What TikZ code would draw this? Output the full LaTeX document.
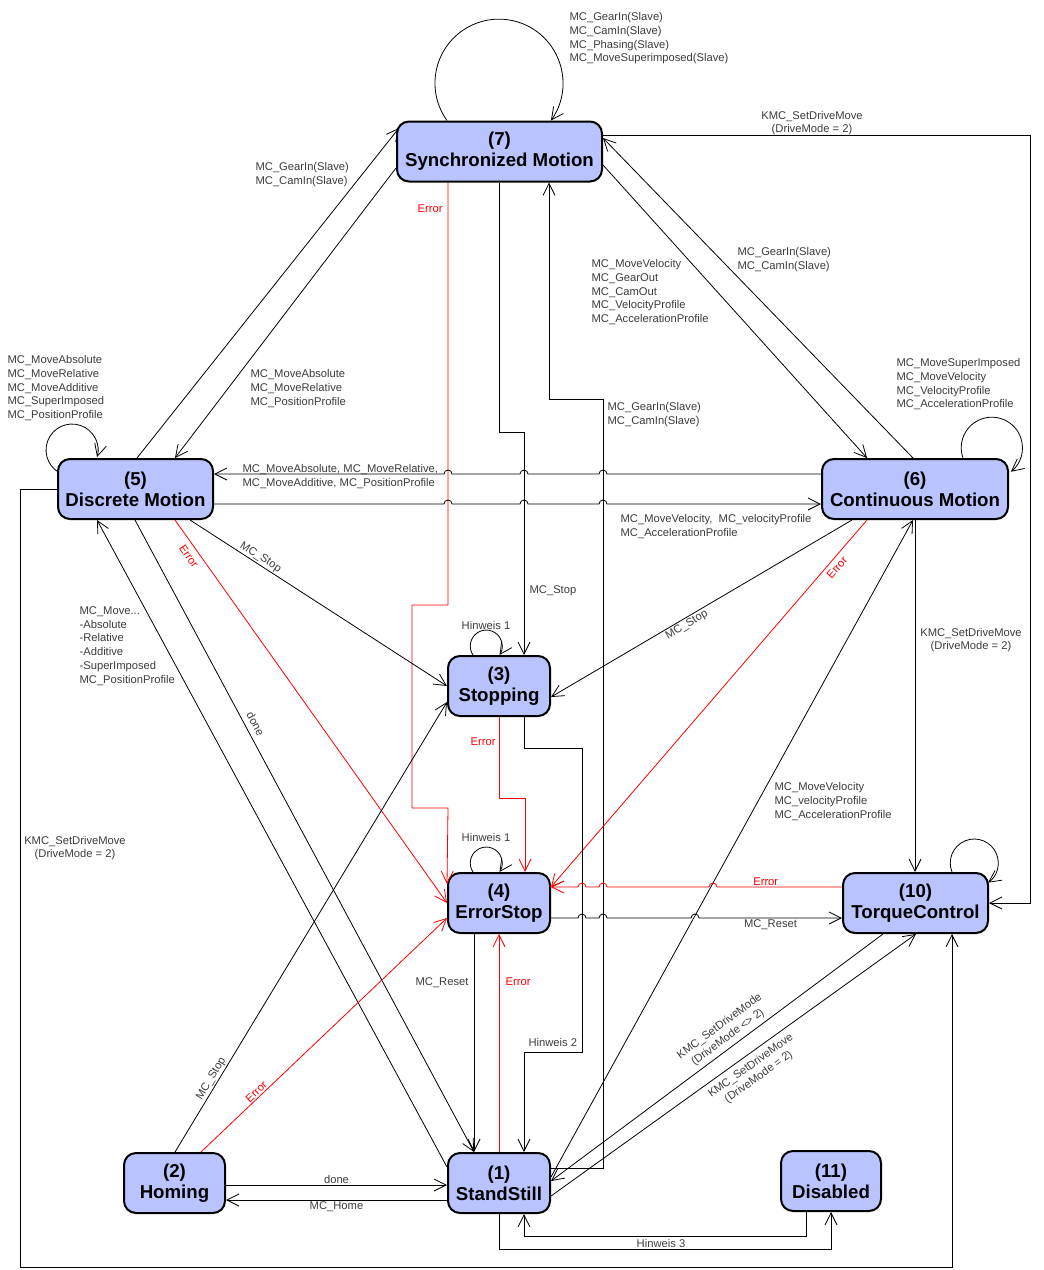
\documentclass[tikz,border=0pt]{standalone}
\usepackage{fontspec}
\setmainfont{Liberation Sans}
\usetikzlibrary{arrows.meta,calc}

\definecolor{stfill}{RGB}{185,196,255}
\definecolor{lblgray}{RGB}{60,60,60}
\def\upx{0.75pt}
\newcommand\lblfont{\fontsize{8.4}{10.3}\selectfont}
\newcommand\stfont{\fontsize{14}{16}\selectfont\bfseries}

\begin{document}
\begin{tikzpicture}[
  x=0.75pt, y=-0.75pt,
  state/.style={rectangle, draw=black, line width=1.5pt, fill=stfill, rounded corners=9pt,
                minimum height=60*\upx, inner sep=0pt, align=center, font=\stfont},
  tr/.style={draw=black, line width=0.6pt, -{Straight Barb[length=9pt,width=9pt]}},
  errtr/.style={tr, draw=red},
  lbl/.style={font=\lblfont, text=lblgray, inner sep=1pt, align=left},
  errlbl/.style={lbl, text=red}
]
  \useasboundingbox (0,0) rectangle (1043,1270);

  % ── States ─────────────────────────────────────────────────────────────
  \node[state, minimum width=205*\upx] (SM) at (499.5,151.5) {(7)\\Synchronized Motion};
  \node[state, minimum width=155*\upx] (DM) at (135.5,489)   {(5)\\Discrete Motion};
  \node[state, minimum width=186*\upx] (CM) at (915,489)     {(6)\\Continuous Motion};
  \node[state, minimum width=102*\upx] (ST) at (499,686)     {(3)\\Stopping};
  \node[state, minimum width=102*\upx] (ES) at (499,903)     {(4)\\ErrorStop};
  \node[state, minimum width=145*\upx] (TC) at (915.5,903)   {(10)\\TorqueControl};
  \node[state, minimum width=101*\upx] (HO) at (174.5,1183)  {(2)\\Homing};
  \node[state, minimum width=102*\upx] (SS) at (499,1183)    {(1)\\StandStill};
  \node[state, minimum width=100*\upx] (DI) at (831,1181)    {(11)\\Disabled};

  % ── Self loops ─────────────────────────────────────────────────────────
  \draw[tr] (447,0 |- SM.north) arc[start angle=144.3, end angle=395.7, radius=64];
  \draw[tr] (58.8,472.4) arc[start angle=120.6, end angle=375.6, radius=26];
  \draw[tr] (963,0 |- CM.north) arc[start angle=160.5, end angle=411.6, radius=30.6];
  \draw[tr] (952,0 |- TC.north) arc[start angle=158, end angle=415, radius=24];
  \draw[tr] (473,0 |- ST.north) arc[start angle=146, end angle=394, radius=16];
  \draw[tr] (473,0 |- ES.north) arc[start angle=146, end angle=394, radius=16];

  \node[lbl, anchor=north west] (lsm) at (568,11)
    {MC\_GearIn(Slave)\\MC\_CamIn(Slave)\\MC\_Phasing(Slave)\\MC\_MoveSuperimposed(Slave)};
  \node[lbl, anchor=north west] (ldm) at (6,354)
    {MC\_MoveAbsolute\\MC\_MoveRelative\\MC\_MoveAdditive\\MC\_SuperImposed\\MC\_PositionProfile};
  \node[lbl, anchor=north west] (lcm) at (895,357)
    {MC\_MoveSuperImposed\\MC\_MoveVelocity\\MC\_VelocityProfile\\MC\_AccelerationProfile};
  \node[lbl] (lst) at (486,625) {Hinweis 1};
  \node[lbl] (les) at (486,837) {Hinweis 1};

  % ── Synchronized Motion ────────────────────────────────────────────────
  % (7) -> (10)
  \draw[tr] (SM.east |- 0,135) -| (1030,0 |- TC.east) -- (TC.east);
  \node[lbl, align=center] (lkmc1) at (812,123) {KMC\_SetDriveMove\\(DriveMode = 2)};
  % (5) <-> (7)
  \draw[tr] (137,0 |- DM.north) -- (399,128);
  \node[lbl, anchor=north west] (lgear1) at (254,161) {MC\_GearIn(Slave)\\MC\_CamIn(Slave)};
  \draw[tr] (SM.west |- 0,168) -- (175,0 |- DM.north);
  \node[lbl, anchor=north west] (labs1) at (249,368)
    {MC\_MoveAbsolute\\MC\_MoveRelative\\MC\_PositionProfile};
  % (7) <-> (6)
  \draw[tr] (SM.east |- 0,165) -- (867,0 |- CM.north);
  \node[lbl, anchor=north west] (lvel1) at (590,258)
    {MC\_MoveVelocity\\MC\_GearOut\\MC\_CamOut\\MC\_VelocityProfile\\MC\_AccelerationProfile};
  \draw[tr] (913,0 |- CM.north) -- (SM.east |- 0,138);
  \node[lbl, anchor=north west] (lgear2) at (736,246) {MC\_GearIn(Slave)\\MC\_CamIn(Slave)};
  % (7) -> (3)
  \draw[tr] (SM.south) |- (524,432) -- (524,0 |- ST.north);
  \node[lbl, anchor=north west] (lstop1) at (528,584) {MC\_Stop};
  % (7) -> (4)
  \draw[errtr] (448,0 |- SM.south) |- (412,605) |- (448,808) -- ($(ES.north west)+(0,12)$);
  \node[errlbl, anchor=north west] (lerr1) at (416,203) {Error};
  % (1) -> (7)
  \draw[tr] (SS.east |- 0,1168) -| (603,399) -| (549,0 |- SM.south);
  \node[lbl, anchor=north west] (lgear3) at (606,401) {MC\_GearIn(Slave)\\MC\_CamIn(Slave)};

  % ── Discrete / Continuous Motion ───────────────────────────────────────
  % (6) -> (5), with hops over the verticals
  \draw[tr] (CM.west |- 0,474) -- (607,474) arc[start angle=0, end angle=-180, radius=4]
    -- (528,474) arc[start angle=0, end angle=-180, radius=4]
    -- (452,474) arc[start angle=0, end angle=-180, radius=4] -- (DM.east |- 0,474);
  \node[lbl, anchor=north west] (labs2) at (241,463)
    {MC\_MoveAbsolute, MC\_MoveRelative,\\MC\_MoveAdditive, MC\_PositionProfile};
  % (5) -> (6)
  \draw[tr] (DM.east |- 0,504) -- (444,504) arc[start angle=180, end angle=360, radius=4]
    -- (520,504) arc[start angle=180, end angle=360, radius=4]
    -- (599,504) arc[start angle=180, end angle=360, radius=4] -- (CM.west |- 0,504);
  \node[lbl, anchor=north west] (lvel2) at (619,513)
    {MC\_MoveVelocity, \ MC\_velocityProfile\\MC\_AccelerationProfile};
  % (5) -> (3), (5) -> (4)
  \draw[tr] (190,0 |- DM.south) -- node[lbl, sloped, above, pos=0.26] {MC\_Stop} (ST.west);
  \draw[errtr] (175,0 |- DM.south) -- node[errlbl, sloped, below=3pt, pos=0.08] {Error} (ES.west);
  % (5) <-> (1)
  \draw[tr] (135,0 |- DM.south) -- node[lbl, sloped, above=3pt, pos=0.33] {done} (474,0 |- SS.north);
  \draw[tr] (SS.west |- 0,1167) -- (97,0 |- DM.south);
  \node[lbl, anchor=north west] (lmove) at (78,605)
    {MC\_Move...\\-Absolute\\-Relative\\-Additive\\-SuperImposed\\MC\_PositionProfile};
  % (5) -> (10)
  \draw[tr] (DM.west) -| (20,1267) -| (952,0 |- TC.south);
  \node[lbl, align=center] (lkmc2) at (75,848) {KMC\_SetDriveMove\\(DriveMode = 2)};
  % (6) -> (3), (6) -> (4)
  \draw[tr] (852,0 |- CM.south) -- node[lbl, sloped, below, pos=0.56] {MC\_Stop} (ST.east |- 0,697);
  \draw[errtr] (867,0 |- CM.south) -- node[errlbl, sloped, below=2pt, pos=0.115] {Error} (ES.east |- 0,887);
  % (6) -> (10)
  \draw[tr] (CM.south) -- (915,0 |- TC.north);
  \node[lbl, align=center] (lkmc3) at (971,640) {KMC\_SetDriveMove\\(DriveMode = 2)};
  % (1) -> (6)
  \draw[tr] (SS.east |- 0,1177) -- (913,0 |- CM.south);
  \node[lbl, anchor=north west] (lvel3) at (773,781)
    {MC\_MoveVelocity\\MC\_velocityProfile\\MC\_AccelerationProfile};

  % ── Stopping / ErrorStop ───────────────────────────────────────────────
  \draw[errtr] (ST.south) |- (525,798) -- (525,0 |- ES.north);
  \node[errlbl, anchor=north west] (lerr2) at (469,736) {Error};
  \draw[tr] (524,0 |- ST.south) |- (582,748) |- (524,1052) -- (524,0 |- SS.north);
  \node[lbl, anchor=north west] (lhin2) at (527,1037) {Hinweis 2};
  % (10) -> (4)
  \draw[errtr] (TC.west |- 0,887) -- node[errlbl, above, pos=0.61] {Error}
    (717,887) arc[start angle=0, end angle=-180, radius=4]
    -- (607,887) arc[start angle=0, end angle=-180, radius=4]
    -- (586,887) arc[start angle=0, end angle=-180, radius=4] -- (ES.east |- 0,887);
  % (4) -> (10)
  \draw[tr] (ES.east |- 0,918) -- (578,918) arc[start angle=180, end angle=360, radius=4]
    -- (599,918) arc[start angle=180, end angle=360, radius=4]
    -- (691,918) arc[start angle=180, end angle=360, radius=4]
    -- node[lbl, below, pos=0.5] {MC\_Reset} (TC.west |- 0,918);
  \draw[tr] (474,0 |- ES.south) -- (474,0 |- SS.north);
  \node[lbl, anchor=north west] (lreset) at (414,976) {MC\_Reset};
  \draw[errtr] (SS.north) -- (ES.south);
  \node[errlbl, anchor=north west] (lerr3) at (504,976) {Error};

  % ── Homing ─────────────────────────────────────────────────────────────
  \draw[tr] (175,0 |- HO.north) -- node[lbl, sloped, above, pos=0.155] {MC\_Stop} (ST.west |- 0,702);
  \draw[errtr] (201,0 |- HO.north) -- node[errlbl, sloped, above, pos=0.24] {Error} (ES.west |- 0,918);
  \draw[tr] (HO.east |- 0,1185) -- node[lbl, above] {done} (SS.west |- 0,1185);
  \draw[tr] (SS.west |- 0,1200) -- node[lbl, below] {MC\_Home} (HO.east |- 0,1200);

  % ── TorqueControl / Disabled ───────────────────────────────────────────
  \draw[tr] (883,0 |- TC.south) -- node[lbl, sloped, above=2pt, pos=0.45, align=center]
    {KMC\_SetDriveMode\\(DriveMode <> 2)} (SS.east |- 0,1181);
  \draw[tr] (SS.east |- 0,1196) -- node[lbl, sloped, below=3pt, pos=0.53, align=center]
    {KMC\_SetDriveMove\\(DriveMode = 2)} (916,0 |- TC.south);
  \draw[tr] (806,0 |- DI.south) |- (524,1236) -- (524,0 |- SS.south);
  \draw[tr] (SS.south) |- (831,1249) -- (DI.south);
  \node[lbl] (lhin3) at (661,1243) {Hinweis 3};
\end{tikzpicture}
\end{document}
